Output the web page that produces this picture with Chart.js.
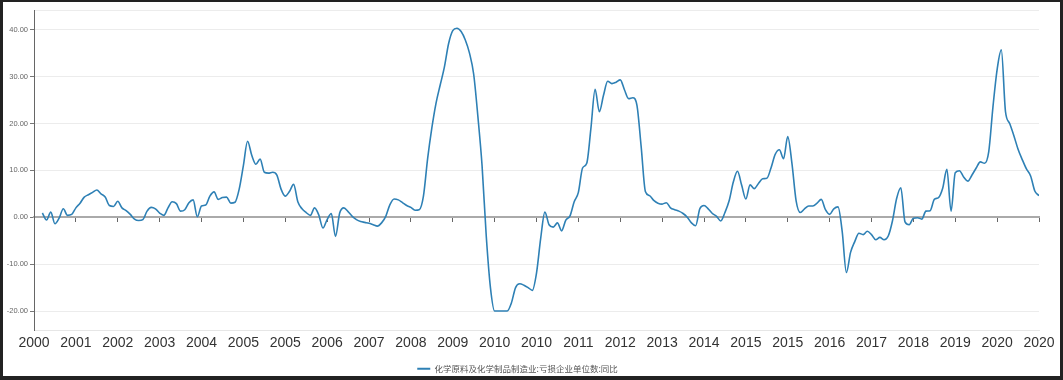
<!DOCTYPE html>
<html>
<head>
<meta charset="utf-8">
<script src="https://cdn.jsdelivr.net/npm/chart.js@4.4.0/dist/chart.umd.min.js"></script>
<style>
  html, body { margin: 0; padding: 0; background: #fff; }
  #wrap { position: relative; width: 1063px; height: 380px; }
  #c { position: absolute; left: 0; top: 0; }
  #frame { position: absolute; left: 0; top: 0; width: 1063px; height: 380px; box-sizing: border-box;
           border-style: solid; border-color: #222; border-width: 2px 3px 4px 3px; pointer-events: none; }
</style>
</head>
<body>
<div id="wrap">
  <canvas id="c" width="1063" height="380"></canvas>
  <div id="frame"></div>
</div>
<script>
const seriesName = '化学原料及化学制品制造业:亏损企业单位数:同比';
// x-axis tick labels, one every 10 monthly points
const yearTicks = ['2000','2001','2002','2003','2004','2005','2005','2006','2007','2008','2009','2010','2010',
                   '2011','2012','2013','2014','2015','2015','2016','2017','2018','2019','2020','2020'];
const yTickValues = [-20, -10, 0, 10, 20, 30, 40];
// monthly YoY values (%), 241 points
const values = [
  null, null, 0.9, -0.6, 1.1, -1.4, -0.2, 1.8, 0.4, 0.6,
  2.0, 3.0, 4.3, 4.8, 5.3, 5.8, 5.0, 4.3, 2.5, 2.3,
  3.4, 2.0, 1.4, 0.6, -0.4, -0.7, -0.5, 1.3, 2.1, 1.8,
  0.9, 0.4, 2.0, 3.3, 2.9, 1.3, 1.6, 3.1, 3.7, 0.1,
  2.4, 2.6, 4.5, 5.4, 3.8, 4.2, 4.3, 3.0, 3.2, 6.0,
  11.0, 16.2, 13.2, 11.3, 12.4, 9.6, 9.4, 9.6, 9.0, 6.0,
  4.5, 5.5, 7.0, 3.3, 1.8, 1.0, 0.4, 2.0, 0.5, -2.3,
  -0.5, 0.8, -4.1, 0.9, 2.0, 1.2, 0.2, -0.5, -0.9, -1.1,
  -1.3, -1.6, -1.9, -1.2, 0.2, 2.7, 3.9, 3.7, 3.1, 2.5,
  2.1, 1.5, 1.6, 4.5, 12.5, 19.0, 24.3, 28.2, 32.0, 37.0,
  39.8, 40.3, 39.6, 37.8, 35.0, 30.5, 21.5, 11.0, -4.0, -15.0,
  -20.0, -20.0, -20.0, -20.0, -18.3, -15.0, -14.2, -14.5, -15.0, -15.6,
  -11.9, -4.5, 1.1, -1.6, -2.1, -1.2, -2.9, -0.6, 0.3, 3.3,
  5.3, 10.5, 11.5, 19.0, 27.3, 22.5, 26.0, 29.0, 28.5, 28.8,
  29.3, 27.2, 25.3, 25.5, 23.8, 15.0, 5.5, 4.6, 3.6, 3.0,
  2.8, 3.1, 2.0, 1.6, 1.3, 0.8, 0.0, -1.2, -1.8, 1.8,
  2.5, 1.8, 0.8, 0.2, -0.8, 1.0, 3.5, 7.5, 9.8, 6.8,
  3.9, 6.9, 6.1, 7.2, 8.2, 8.3, 10.5, 13.4, 14.4, 12.5,
  17.2, 11.5, 3.5, 1.0, 1.8, 2.4, 2.4, 3.0, 3.8, 1.6,
  0.6, 1.8, 2.2, -3.0, -11.8, -7.5, -5.2, -3.4, -3.7, -3.0,
  -3.7, -4.8, -4.3, -4.8, -4.0, -0.8, 4.0, 6.3, -1.0, -1.6,
  -0.2, -0.1, -0.4, 1.3, 1.4, 3.8, 4.2, 6.2, 10.2, 1.3,
  9.5, 9.9, 8.6, 7.7, 9.0, 10.5, 11.8, 11.5, 14.0, 23.5,
  31.5, 35.7, 22.5, 20.0, 17.4, 14.5, 12.3, 10.3, 8.8, 5.6,
  4.6
];

const lineColor = '#2E80B5';
const Y_MIN = -24.2, Y_MAX = 44.2;
const LEGEND_DX = -2, LEGEND_DY = 3;

const legendShift = {
  id: 'legendShift',
  afterLayout(chart) {
    const l = chart.legend;
    if (!l) return;
    l.left += LEGEND_DX; l.right += LEGEND_DX;
    l.top += LEGEND_DY; l.bottom += LEGEND_DY;
  }
};

new Chart(document.getElementById('c'), {
  type: 'line',
  data: {
    datasets: [{
      label: seriesName,
      data: values.map((v, i) => ({ x: i, y: v })),
      borderColor: lineColor,
      backgroundColor: lineColor,
      borderWidth: 1.6,
      pointRadius: 0,
      cubicInterpolationMode: 'monotone',
      xAxisID: 'x',
      yAxisID: 'y'
    }]
  },
  options: {
    responsive: false,
    animation: false,
    events: [],
    layout: { padding: { top: 10, right: 24, left: 0, bottom: 0 } },
    scales: {
      x: {
        type: 'linear',
        position: 'bottom',
        min: 0,
        max: values.length - 1,
        grid: { display: false, drawTicks: false },
        border: { display: true, color: '#e6e6e6', width: 1 },
        ticks: {
          stepSize: 10,
          autoSkip: false,
          maxRotation: 0,
          padding: 4,
          color: '#333',
          font: { family: '"Liberation Sans", Arial, sans-serif', size: 14 },
          callback: (v) => yearTicks[Math.round(v / 10)] ?? ''
        }
      },
      x2: {
        type: 'linear',
        position: { y: 0 },
        min: 0,
        max: values.length - 1,
        grid: { drawOnChartArea: false, drawTicks: true, tickLength: 4, tickColor: '#666' },
        border: { display: true, color: '#aaa', width: 2 },
        ticks: { display: false, stepSize: 10, autoSkip: false }
      },
      y: {
        type: 'linear',
        position: 'left',
        min: Y_MIN,
        max: Y_MAX,
        afterBuildTicks: (s) => { s.ticks = yTickValues.concat([Y_MAX]).map(v => ({ value: v })); },
        afterFit: (s) => { s.width = 34; },
        grid: {
          color: '#ececec',
          lineWidth: 1,
          drawTicks: true,
          tickLength: 4,
          tickColor: (ctx) => (ctx.tick && ctx.tick.value > 40 ? 'rgba(0,0,0,0)' : '#777')
        },
        border: { display: true, color: '#666', width: 1 },
        ticks: {
          padding: 2,
          color: '#666',
          font: { family: '"Liberation Sans", Arial, sans-serif', size: 7.5 },
          callback: (v) => (v > 40 ? '' : Number(v).toFixed(2))
        }
      }
    },
    plugins: {
      tooltip: { enabled: false },
      legend: {
        position: 'bottom',
        labels: {
          boxWidth: 13,
          boxHeight: 2,
          padding: 6,
          color: '#555',
          font: { family: '"Noto Sans CJK SC", "Noto Sans", sans-serif', size: 8.5 },
          generateLabels: (chart) => Chart.defaults.plugins.legend.labels.generateLabels(chart)
            .map(l => Object.assign(l, { lineWidth: 0, fillStyle: lineColor, strokeStyle: lineColor }))
        }
      }
    }
  },
  plugins: [legendShift]
});
</script>
</body>
</html>
